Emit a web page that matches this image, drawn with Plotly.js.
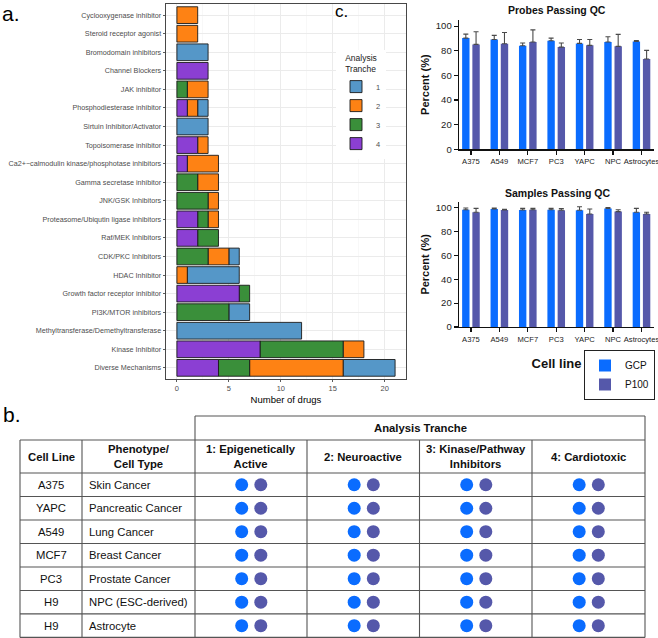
<!DOCTYPE html>
<html><head><meta charset="utf-8">
<script src="https://cdn.plot.ly/plotly-3.0.1.min.js"></script>
<style>html,body{margin:0;padding:0;background:#fff}#chart{width:658px;height:638px}</style>
</head><body><div id="chart"></div>
<script>
// ---------- Panel a data (top to bottom as displayed) ----------
const mechanisms = [
  "Cyclooxygenase inhibitor","Steroid receptor agonist","Bromodomain inhibitors","Channel Blockers",
  "JAK inhibitor","Phosphodiesterase inhibitor","Sirtuin Inhibitor/Activator","Topoisomerase inhibitor",
  "Ca2+\u2212calmodulin kinase/phosphotase inhibitors","Gamma secretase inhibitor","JNK/GSK Inhibitors",
  "Proteasome/Ubiqutin ligase inhibitors","Raf/MEK Inhibitors","CDK/PKC Inhibitors","HDAC Inhibitor",
  "Growth factor receptor inhibitor","PI3K/MTOR inhibitors","Methyltransferase/Demethyltransferase",
  "Kinase Inhibitor","Diverse Mechanisms"
];
const trancheNames = ["1","2","3","4"];
const tranche1 = [0,0,3,0,0,1,3,0,0,0,0,0,0,1,5,0,2,12,0,5];
const tranche2 = [2,2,0,0,2,1,0,1,3,2,1,1,0,2,1,0,0,0,2,9];
const tranche3 = [0,0,0,0,1,0,0,0,0,2,3,1,2,3,0,1,5,0,8,3];
const tranche4 = [0,0,0,3,0,1,0,2,1,0,0,2,2,0,0,6,0,0,8,4];
const trancheColors = ["#5597C8","#FE8214","#3A8F3A","#8B3FD3"];

// ---------- Panel c data ----------
const qcCellLines = ["A375","A549","MCF7","PC3","YAPC","NPC","Astrocytes"];
const probesGCP = [90.3,89.2,84.1,88.1,86.0,87.1,87.6];
const probesGCPerr = [3.2,3.3,2.2,2.2,3.2,4.3,0.8];
const probesP100 = [85.2,85.7,87.1,83.0,84.4,83.6,73.3];
const probesP100err = [10.2,9.2,9.9,3.3,4.8,9.7,7.0];
const samplesGCP = [98.3,98.9,98.0,98.3,97.8,99.4,96.1];
const samplesGCPerr = [1.4,0.8,1.4,1.1,3.0,0.6,3.3];
const samplesP100 = [96.1,98.0,98.3,97.8,94.7,96.7,94.7];
const samplesP100err = [3.3,0.6,1.1,1.4,4.2,1.6,1.4];
const platformNames = ["GCP","P100"];
const platformColors = ["#0A6CFF","#5558AA"];

// ---------- Panel b data ----------
const tableCellLines = ["A375","YAPC","A549","MCF7","PC3","H9","H9"];
const tablePhenotypes = ["Skin Cancer","Pancreatic Cancer","Lung Cancer","Breast Cancer","Prostate Cancer","NPC (ESC-derived)","Astrocyte"];
const tableTranches = ["1: Epigenetically<br>Active","2: Neuroactive","3: Kinase/Pathway<br>Inhibitors","4: Cardiotoxic"];
const tableHeaders = ["Cell Line","Phenotype/<br>Cell Type"];
const tableGroupHeader = "Analysis Tranche";
const gcpProfiled = [[1,1,1,1],[1,1,1,1],[1,1,1,1],[1,1,1,1],[1,1,1,1],[1,1,1,1],[1,1,1,1]];
const p100Profiled = [[1,1,1,1],[1,1,1,1],[1,1,1,1],[1,1,1,1],[1,1,1,1],[1,1,1,1],[1,1,1,1]];

// ---------- helpers ----------
const W = 658, H = 638;
const X = p => p / W;
const Y = p => 1 - p / H;
const FONT = "Liberation Sans, Arial, sans-serif";

const traces = [];
// Panel a: stacked horizontally (4 leftmost, then 3, 2, 1)
const tr = [tranche1, tranche2, tranche3, tranche4];
tr.forEach((vals, k) => {
  const base = vals.map((v, i) => { let s = 0; for (let j = k + 1; j < tr.length; j++) s += tr[j][i]; return s; });
  traces.push({
    type: "bar", orientation: "h", name: trancheNames[k], legend: "legend",
    x: vals.map(v => v === 0 ? null : v), y: mechanisms, base: base,
    width: 0.9, xaxis: "x", yaxis: "y",
    marker: { color: trancheColors[k], line: { color: "#1a1a1a", width: 0.9 } },
    hoverinfo: "skip"
  });
});

// Panel c
function qcTrace(vals, errs, p, xa, ya, show) {
  return {
    type: "bar", x: qcCellLines, y: vals, name: platformNames[p], legend: "legend2",
    legendgroup: platformNames[p], showlegend: show, xaxis: xa, yaxis: ya,
    width: 0.26, offset: p === 0 ? -0.31 : 0.05,
    marker: { color: platformColors[p] },
    error_y: { type: "data", symmetric: false, array: errs, arrayminus: errs.map(() => 0),
               color: "#4a4a4a", thickness: 1.1, width: 2.5 },
    hoverinfo: "skip"
  };
}
traces.push(qcTrace(probesGCP, probesGCPerr, 0, "x2", "y2", true));
traces.push(qcTrace(probesP100, probesP100err, 1, "x2", "y2", true));
traces.push(qcTrace(samplesGCP, samplesGCPerr, 0, "x3", "y3", false));
traces.push(qcTrace(samplesP100, samplesP100err, 1, "x3", "y3", false));

// Panel b dots
[gcpProfiled, p100Profiled].forEach((mat, p) => {
  const xs = [], ys = [];
  mat.forEach((row, r) => row.forEach((v, t) => { if (v) { xs.push(t + (p === 0 ? -0.085 : 0.085)); ys.push(r); } }));
  traces.push({ type: "scatter", mode: "markers", x: xs, y: ys, xaxis: "x4", yaxis: "y4",
    showlegend: false, hoverinfo: "skip", marker: { size: 13, color: platformColors[p] } });
});

// ---------- table geometry ----------
const colEdges = [20, 82, 195, 307, 419.5, 532, 645];
const groupTop = 416, headTop = 440, bodyTop = 473, bodyBottom = 637.4;
const nRows = tableCellLines.length;
const rowH = (bodyBottom - bodyTop) / nRows;
const lineStyle = { color: "#555", width: 1.1 };
const shapes = [];
function hline(y, x0, x1) { shapes.push({ type: "line", xref: "paper", yref: "paper", x0: X(x0), x1: X(x1), y0: Y(y), y1: Y(y), line: lineStyle }); }
function vline(x, y0, y1) { shapes.push({ type: "line", xref: "paper", yref: "paper", x0: X(x), x1: X(x), y0: Y(y0), y1: Y(y1), line: lineStyle }); }
hline(groupTop, colEdges[2], colEdges[6]);
hline(headTop, colEdges[0], colEdges[6]);
for (let r = 0; r <= nRows; r++) hline(bodyTop + r * rowH, colEdges[0], colEdges[6]);
colEdges.forEach((c, i) => vline(c, (i === 2 || i === 6) ? groupTop : headTop, bodyBottom));

const annotations = [];
function ann(o) { annotations.push(Object.assign({ showarrow: false, xanchor: "center", yanchor: "middle", xref: "paper", yref: "paper" }, o)); }
const bold = { family: FONT, size: 11.3, color: "#111", weight: "bold" };
const reg = { family: FONT, size: 11.3, color: "#111" };
ann({ x: X((colEdges[2] + colEdges[6]) / 2), y: Y((groupTop + headTop) / 2), text: tableGroupHeader, font: bold });
const headCY = (headTop + bodyTop) / 2;
tableHeaders.forEach((h, i) => ann({ x: X((colEdges[i] + colEdges[i + 1]) / 2), y: Y(headCY), text: h, font: bold }));
tableTranches.forEach((h, i) => ann({ x: X((colEdges[i + 2] + colEdges[i + 3]) / 2), y: Y(headCY), text: h, font: bold }));
tableCellLines.forEach((c, r) => ann({ yref: "y4", x: X((colEdges[0] + colEdges[1]) / 2), y: r, text: c, font: reg }));
tablePhenotypes.forEach((c, r) => ann({ yref: "y4", x: X(colEdges[1] + 5), y: r, xanchor: "left", text: c, font: reg }));

// panel labels and titles
ann({ x: X(1), y: Y(13), xanchor: "left", borderpad: 0, text: "a.", font: { family: FONT, size: 21, color: "#000" } });
ann({ x: X(1), y: Y(414), xanchor: "left", text: "b.", font: { family: FONT, size: 21, color: "#000" } });
ann({ x: X(334), y: Y(12), xanchor: "left", borderpad: 0, text: "c.", font: { family: FONT, size: 17, color: "#000" } });
ann({ x: X(557), y: Y(10), text: "Probes Passing QC", font: { family: FONT, size: 10.5, color: "#111", weight: "bold" } });
ann({ x: X(557), y: Y(193), text: "Samples Passing QC", font: { family: FONT, size: 10.5, color: "#111", weight: "bold" } });

const qcX = (anchor) => ({
  anchor: anchor, domain: [X(459), X(654)], type: "category", categoryorder: "array", categoryarray: qcCellLines,
  range: [-0.42, 6.44], showgrid: false, zeroline: false, showline: true, linecolor: "#111", linewidth: 1.4,
  ticks: "outside", ticklen: 4, tickwidth: 1.2, tickcolor: "#111", tickangle: 0, automargin: false,
  tickfont: { family: FONT, size: 7.6, color: "#222" }
});
const qcY = (anchor, d0, d1) => ({
  anchor: anchor, domain: [Y(d0), Y(d1)], range: [0, 105], tickvals: [0, 20, 40, 60, 80, 100],
  showgrid: false, zeroline: false, showline: true, linecolor: "#111", linewidth: 1.4, automargin: false,
  ticks: "outside", ticklen: 4, tickwidth: 1.2, tickcolor: "#111",
  tickfont: { family: FONT, size: 9.5, color: "#222" },
  title: { text: "Percent (%)", standoff: 4, font: { family: FONT, size: 11, color: "#111", weight: "bold" } }
});

const layout = {
  width: W, height: H, margin: { l: 0, r: 0, t: 0, b: 0, autoexpand: false },
  paper_bgcolor: "#fff", plot_bgcolor: "rgba(0,0,0,0)",
  barmode: "overlay", font: { family: FONT },
  xaxis: {
    anchor: "y", domain: [X(166), X(406)], range: [-1.05, 22.05], tickvals: [0, 5, 10, 15, 20],
    showgrid: true, gridcolor: "#EBEBEB", gridwidth: 1, automargin: false,
    minor: { dtick: 2.5, tick0: 0, showgrid: true, gridcolor: "#F3F3F3", gridwidth: 0.6 },
    zeroline: false, showline: true, mirror: true, linecolor: "#333", linewidth: 0.9,
    ticks: "outside", ticklen: 2.5, tickcolor: "#333", tickwidth: 0.8,
    tickfont: { family: FONT, size: 7.5, color: "#4D4D4D" },
    title: { text: "Number of drugs", standoff: 3, font: { family: FONT, size: 9.5, color: "#000" } }
  },
  yaxis: {
    anchor: "x", domain: [Y(379), Y(4)], type: "category", categoryorder: "array", categoryarray: mechanisms,
    range: [19.6, -0.6], showgrid: true, gridcolor: "#EBEBEB", gridwidth: 1, zeroline: false, automargin: false,
    showline: true, mirror: true, linecolor: "#333", linewidth: 0.9,
    ticks: "outside", ticklen: 2.5, tickcolor: "#333", tickwidth: 0.8,
    tickfont: { family: FONT, size: 7.2, color: "#4D4D4D" }
  },
  xaxis2: qcX("y2"),
  yaxis2: qcY("x2", 149.3, 20),
  xaxis3: Object.assign(qcX("y3"), { title: { text: "Cell line", standoff: 16, font: { family: FONT, size: 13, color: "#111", weight: "bold" } } }),
  yaxis3: qcY("x3", 327, 201.7),
  xaxis4: { anchor: "y4", domain: [X(colEdges[2]), X(colEdges[6])], range: [-0.5, 3.5], visible: false, fixedrange: true },
  yaxis4: { anchor: "x4", domain: [Y(bodyBottom), Y(bodyTop)], range: [nRows - 0.5, -0.5], visible: false, fixedrange: true },
  legend: {
    x: X(336), y: Y(50), xanchor: "left", yanchor: "top", bgcolor: "#fff", borderwidth: 0,
    traceorder: "normal", tracegroupgap: 0,
    title: { text: "Analysis<br>Tranche", side: "top center", font: { family: FONT, size: 8.5, color: "#222" } },
    font: { family: FONT, size: 7.5, color: "#4D4D4D" }
  },
  legend2: {
    x: X(655), y: Y(350), xanchor: "right", yanchor: "top", bgcolor: "#fff", bordercolor: "#222", borderwidth: 1,
    traceorder: "normal", tracegroupgap: 0,
    font: { family: FONT, size: 10, color: "#111" }
  },
  shapes: shapes, annotations: annotations, showlegend: true
};

Plotly.newPlot("chart", traces, layout, { staticPlot: true });
</script></body></html>
